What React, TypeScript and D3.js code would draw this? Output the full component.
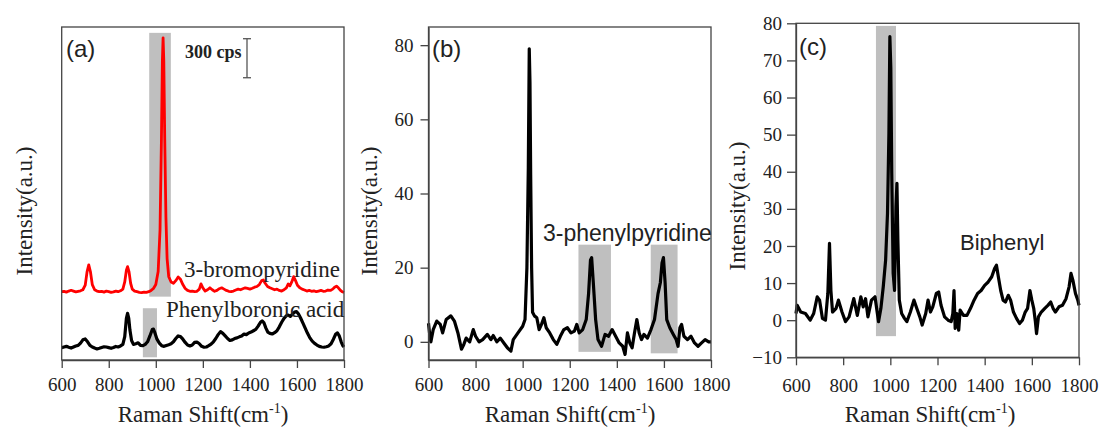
import * as d3 from 'd3';
import React, { useEffect, useRef } from 'react';

const SERIF = '"Liberation Serif", "Times New Roman", serif';
const SANS = '"Liberation Sans", Arial, sans-serif';

const xTicks = [600, 800, 1000, 1200, 1400, 1600, 1800];
const yTicksB = [0, 20, 40, 60, 80];
const yTicksC = [-10, 0, 10, 20, 30, 40, 50, 60, 70, 80];

// panel (a), counts per second (offset)
const bromoA: [number, number][] = [
  [600, 525], [610, 528], [620, 522], [630, 530], [640, 536], [650, 530], [660, 524], [670, 528], [680, 532], [690, 540],
  [700, 575], [708, 680], [715, 731], [722, 680], [730, 580], [740, 540], [750, 530], [760, 525], [770, 528], [780, 522],
  [790, 530], [800, 526], [810, 520], [820, 524], [830, 530], [840, 525], [850, 532], [860, 545], [868, 600], [875, 690],
  [880, 718], [886, 680], [893, 590], [900, 545], [910, 530], [920, 525], [930, 520], [940, 518], [950, 522], [960, 520],
  [970, 525], [980, 535], [990, 550], [1000, 580], [1010, 680], [1018, 1000], [1024, 1700], [1028, 2300], [1031, 2477],
  [1034, 2300], [1038, 1700], [1043, 1100], [1048, 780], [1055, 640], [1065, 600], [1075, 590], [1085, 610], [1095, 638],
  [1105, 620], [1115, 580], [1125, 550], [1135, 535], [1145, 528], [1155, 530], [1165, 525], [1175, 528], [1185, 545],
  [1192, 585], [1200, 555], [1210, 530], [1220, 540], [1230, 555], [1240, 540], [1250, 528], [1260, 535], [1270, 548],
  [1280, 555], [1290, 545], [1300, 535], [1310, 528], [1320, 525], [1330, 530], [1340, 538], [1350, 545], [1360, 540],
  [1370, 548], [1380, 555], [1390, 550], [1400, 545], [1410, 552], [1420, 560], [1430, 565], [1440, 580], [1450, 610],
  [1457, 615], [1465, 590], [1475, 565], [1485, 555], [1495, 548], [1505, 540], [1515, 545], [1525, 535], [1535, 530],
  [1545, 540], [1555, 555], [1563, 585], [1570, 570], [1578, 600], [1586, 641], [1594, 610], [1602, 575], [1612, 555],
  [1622, 545], [1632, 538], [1642, 530], [1652, 535], [1662, 528], [1672, 532], [1682, 525], [1692, 530], [1702, 535],
  [1712, 528], [1722, 530], [1732, 538], [1742, 535], [1752, 545], [1760, 560], [1768, 568], [1776, 555], [1785, 535],
  [1792, 525], [1800, 520],
];

const boronicA: [number, number][] = [
  [600, 95], [610, 100], [620, 105], [630, 98], [640, 92], [650, 100], [660, 108], [670, 112], [680, 130], [690, 155],
  [700, 162], [710, 140], [720, 112], [730, 100], [740, 92], [750, 85], [760, 90], [770, 96], [780, 102], [790, 100],
  [800, 95], [810, 90], [820, 96], [830, 104], [840, 100], [850, 108], [860, 120], [868, 180], [875, 320], [880, 359],
  [885, 320], [890, 230], [897, 150], [905, 120], [915, 125], [925, 132], [935, 112], [945, 110], [955, 120], [965, 140],
  [975, 185], [985, 235], [990, 238], [995, 215], [1005, 160], [1015, 130], [1025, 110], [1035, 105], [1045, 112],
  [1055, 118], [1065, 125], [1075, 140], [1085, 165], [1095, 185], [1105, 180], [1115, 160], [1125, 135], [1135, 115],
  [1145, 108], [1155, 115], [1165, 135], [1175, 138], [1185, 125], [1195, 105], [1205, 98], [1215, 100], [1225, 110],
  [1235, 122], [1245, 140], [1255, 165], [1265, 195], [1275, 218], [1285, 205], [1295, 185], [1305, 165], [1315, 150],
  [1325, 155], [1335, 165], [1345, 170], [1355, 178], [1365, 185], [1375, 200], [1385, 195], [1395, 208], [1405, 215],
  [1415, 225], [1425, 235], [1435, 260], [1445, 290], [1452, 300], [1460, 285], [1468, 245], [1476, 215], [1485, 205],
  [1495, 200], [1505, 210], [1515, 225], [1525, 255], [1535, 290], [1545, 320], [1555, 340], [1563, 345], [1572, 335],
  [1580, 350], [1590, 368], [1598, 372], [1606, 355], [1615, 325], [1625, 285], [1635, 245], [1645, 205], [1655, 170],
  [1665, 145], [1675, 128], [1685, 115], [1695, 105], [1705, 100], [1715, 98], [1725, 102], [1735, 108], [1745, 125],
  [1755, 160], [1765, 200], [1772, 208], [1780, 185], [1788, 140], [1795, 110], [1800, 100],
];

// panel (b)
const phenylpyridineB: [number, number][] = [
  [600, 5], [605, 2], [610, 0], [620, 3.3], [635, 5.6], [650, 4.7], [660, 2.4], [675, 6], [695, 7], [710, 5.6],
  [725, 2.4], [740, -2], [750, -0.7], [760, 1], [775, 0], [790, 3.3], [800, 1.5], [815, 0], [830, 0.6], [850, 2],
  [865, 0.6], [875, 1.7], [890, 0], [905, 1], [920, -0.3], [935, -1.6], [950, -2.5], [960, 0.6], [980, 2.4],
  [1000, 4.2], [1010, 6], [1018, 20], [1024, 47], [1028, 79], [1031, 70], [1034, 45], [1038, 20], [1042, 8],
  [1050, 7], [1060, 6.5], [1070, 3.3], [1080, 4.7], [1090, 6.5], [1100, 3.8], [1115, 2.4], [1130, 0.6], [1145, -0.7],
  [1160, 1.5], [1175, 3.3], [1190, 3.8], [1205, 2.4], [1220, 2.9], [1230, 4.7], [1240, 2.4], [1255, 3.3], [1270, 6],
  [1280, 13], [1288, 22], [1293, 22.7], [1300, 16], [1310, 6], [1320, 0.6], [1335, -1.2], [1350, 2], [1365, 1.5],
  [1380, 3.3], [1395, 1.5], [1410, -0.3], [1425, -1.2], [1435, -3.4], [1445, 2.4], [1455, -0.3], [1465, -1.6],
  [1475, 2.4], [1485, 6], [1495, 2.4], [1505, 0.6], [1515, 2], [1530, 1], [1545, 3.3], [1560, 6], [1575, 13],
  [1585, 16], [1592, 21.3], [1598, 22.7], [1605, 16], [1612, 6], [1625, 3.8], [1640, 2], [1652, 0.6], [1660, -1.2],
  [1668, 3.8], [1675, 4.7], [1685, 1.5], [1700, 0.6], [1715, 1.5], [1730, -0.3], [1745, -1.2], [1760, -0.3],
  [1775, 0.6], [1790, 0], [1800, 0],
];

// panel (c)
const biphenylC: [number, number][] = [
  [600, 1.8], [605, 4], [620, 2.2], [640, 1.8], [660, 0], [675, 1.8], [690, 6.3], [700, 5.4], [712, 0.5], [725, 0],
  [735, 7.2], [742, 20.7], [748, 8], [755, 2.2], [770, 3.2], [780, 5.4], [795, 2.2], [810, -0.4], [825, 0.9],
  [845, 5.8], [860, 1.3], [875, 6.3], [885, 3.6], [895, 5.8], [905, 0.9], [920, 5.4], [935, 6.3], [950, -0.4],
  [960, 3.2], [970, 9], [980, 16.2], [988, 28.8], [994, 50.4], [998, 76.4], [1002, 68], [1006, 39.6], [1012, 12.6],
  [1018, 8], [1024, 30.6], [1028, 36.9], [1032, 21.6], [1038, 5.4], [1048, 1.8], [1060, 0.5], [1070, -0.4],
  [1085, 2.2], [1100, 5.4], [1115, 2.7], [1125, 0.9], [1135, -1.3], [1150, 1.8], [1160, 5.4], [1170, 2.2],
  [1180, 3.6], [1195, 7.2], [1205, 7.6], [1215, 4], [1230, 0.9], [1245, 0], [1258, -0.4], [1265, 1.8], [1270, 8],
  [1275, -2.2], [1282, 1.8], [1290, -2.7], [1296, 2.7], [1310, 1.3], [1325, 1.3], [1340, 3.2], [1355, 5.4],
  [1370, 7.2], [1385, 8], [1400, 9.4], [1415, 10.3], [1430, 11.7], [1442, 13.9], [1450, 14.8], [1458, 11.7],
  [1468, 8], [1478, 5.4], [1488, 4.9], [1500, 6.7], [1510, 5.4], [1522, 2.2], [1535, 0.5], [1548, -0.9], [1560, 0],
  [1572, 2.2], [1582, 3.2], [1592, 8], [1600, 5.4], [1608, 3.2], [1615, -0.4], [1620, -3.6], [1628, 0.9],
  [1640, 2.2], [1655, 3.2], [1668, 4], [1680, 4.9], [1690, 3.2], [1700, 2.2], [1715, 3.6], [1730, 4], [1745, 5.8],
  [1758, 9], [1766, 12.6], [1774, 10.8], [1785, 7.2], [1795, 5.4], [1800, 4],
];

// shaded bands: [x0, x1, y0, y1] in data units
const bandsA: [number, number, number, number][] = [[972, 1064, 487, 2515], [945, 1005, 21, 398]];
const bandsB: [number, number, number, number][] = [[1237, 1375, -2.7, 26.2], [1544, 1658, -3.1, 26.2]];
const bandsC: [number, number, number, number][] = [[939, 1024, -4.3, 79.3]];

type Note = { text: string; x: number; y: number; font: string; size: number; weight?: string };

type PanelProps = {
  left: number; top: number; width: number; height: number;
  yDomain: [number, number];
  yTicks: number[] | null;
  yTickSize?: number; yTickPad?: number;
  xTickPad: number;
  series: { data: [number, number][]; color: string; width: number }[];
  bands: [number, number, number, number][];
  notes: Note[];
  xTitleX: number;
  yTitleX: number; yTitleY: number;
  scaleBar?: { x: number; y0: number; y1: number };
};

const Panel = (p: PanelProps) => {
  const ref = useRef<SVGGElement>(null);

  useEffect(() => {
    const g = d3.select(ref.current);
    g.selectAll('*').remove();
    const x = d3.scaleLinear().domain([600, 1800]).range([p.left, p.left + p.width]);
    const y = d3.scaleLinear().domain(p.yDomain).range([p.top + p.height, p.top]);

    g.selectAll('rect.band').data(p.bands).enter().append('rect')
      .attr('class', 'band')
      .attr('x', d => x(d[0])).attr('width', d => x(d[1]) - x(d[0]))
      .attr('y', d => y(d[3])).attr('height', d => y(d[2]) - y(d[3]))
      .attr('fill', '#bfbfbf');

    const line = d3.line<[number, number]>().x(d => x(d[0])).y(d => y(d[1]));
    g.selectAll('path.spec').data(p.series).enter().append('path')
      .attr('class', 'spec')
      .attr('d', d => line(d.data))
      .attr('fill', 'none')
      .attr('stroke', d => d.color)
      .attr('stroke-width', d => d.width)
      .attr('stroke-linejoin', 'round');

    g.append('rect')
      .attr('x', p.left).attr('y', p.top).attr('width', p.width).attr('height', p.height)
      .attr('fill', 'none').attr('stroke', '#444').attr('stroke-width', 1.3);

    const xAxis = g.append('g').attr('transform', `translate(0,${p.top + p.height})`)
      .call(d3.axisBottom(x).tickValues(xTicks).tickSize(8).tickSizeOuter(0).tickPadding(p.xTickPad).tickFormat(d3.format('d')));
    xAxis.select('.domain').attr('stroke', '#444').attr('stroke-width', 1.3);
    xAxis.selectAll('line').attr('stroke', '#444').attr('stroke-width', 1.3);
    xAxis.selectAll('text').attr('font-family', SERIF).attr('font-size', 19).attr('fill', '#222');

    if (p.yTicks) {
      const yAxis = g.append('g').attr('transform', `translate(${p.left},0)`)
        .call(d3.axisLeft(y).tickValues(p.yTicks).tickSize(p.yTickSize || 8).tickSizeOuter(0).tickPadding(p.yTickPad || 6));
      yAxis.select('.domain').attr('stroke', '#444').attr('stroke-width', 1.3);
      yAxis.selectAll('line').attr('stroke', '#444').attr('stroke-width', 1.3);
      yAxis.selectAll('text').attr('font-family', SERIF).attr('font-size', 19).attr('fill', '#222');
    }

    if (p.scaleBar) {
      const s = p.scaleBar;
      const sb = g.append('g').attr('stroke', '#555').attr('stroke-width', 1.3);
      sb.append('line').attr('x1', s.x).attr('x2', s.x).attr('y1', y(s.y0)).attr('y2', y(s.y1));
      sb.append('line').attr('x1', s.x - 4).attr('x2', s.x + 4).attr('y1', y(s.y0)).attr('y2', y(s.y0));
      sb.append('line').attr('x1', s.x - 4).attr('x2', s.x + 4).attr('y1', y(s.y1)).attr('y2', y(s.y1));
    }

    g.selectAll('text.note').data(p.notes).enter().append('text')
      .attr('class', 'note')
      .attr('x', d => d.x).attr('y', d => d.y)
      .attr('font-family', d => d.font).attr('font-size', d => d.size)
      .attr('font-weight', d => d.weight || 'normal')
      .attr('fill', '#222')
      .text(d => d.text);

    const xt = g.append('text')
      .attr('x', p.xTitleX).attr('y', 422)
      .attr('text-anchor', 'middle')
      .attr('font-family', SERIF).attr('font-size', 23).attr('fill', '#222');
    xt.append('tspan').text('Raman Shift(cm');
    xt.append('tspan').attr('font-size', 14).attr('dy', -9).text('-1');
    xt.append('tspan').attr('dy', 9).text(')');

    g.append('text')
      .attr('transform', `translate(${p.yTitleX},${p.yTitleY}) rotate(-90)`)
      .attr('text-anchor', 'middle')
      .attr('font-family', SERIF).attr('font-size', 23).attr('fill', '#222')
      .text('Intensity(a.u.)');
  }, [p]);

  return <g ref={ref} />;
};

export default function App() {
  return (
    <svg width={1101} height={430} style={{ position: 'absolute', left: 0, top: 0, background: '#fff' }}>
      <Panel
        left={61.7} top={27} width={282.3} height={333}
        yDomain={[0, 2560]} yTicks={null} xTickPad={10}
        series={[{ data: bromoA, color: '#ff0000', width: 2.8 }, { data: boronicA, color: '#000', width: 3.2 }]}
        bands={bandsA}
        notes={[
          { text: '(a)', x: 66, y: 57, font: SANS, size: 24 },
          { text: '300 cps', x: 185, y: 58, font: SERIF, size: 18, weight: 'bold' },
          { text: '3-bromopyridine', x: 184, y: 277, font: SERIF, size: 23 },
          { text: 'Phenylboronic acid', x: 166, y: 317, font: SERIF, size: 23 },
        ]}
        scaleBar={{ x: 247, y0: 2470, y1: 2170 }}
        xTitleX={203} yTitleX={32} yTitleY={211}
      />
      <Panel
        left={428.5} top={27} width={282.5} height={333}
        yDomain={[-4.9, 84.9]} yTicks={yTicksB} yTickSize={8} yTickPad={7} xTickPad={10}
        series={[{ data: phenylpyridineB, color: '#000', width: 3.2 }]}
        bands={bandsB}
        notes={[
          { text: '(b)', x: 432, y: 57, font: SANS, size: 24 },
          { text: '3-phenylpyridine', x: 543, y: 241, font: SANS, size: 23 },
        ]}
        xTitleX={570} yTitleX={377} yTitleY={211}
      />
      <Panel
        left={796} top={23.3} width={283} height={334}
        yDomain={[-10, 80]} yTicks={yTicksC} yTickSize={9} yTickPad={5} xTickPad={13}
        series={[{ data: biphenylC, color: '#000', width: 3.2 }]}
        bands={bandsC}
        notes={[
          { text: '(c)', x: 799, y: 55, font: SANS, size: 24 },
          { text: 'Biphenyl', x: 960, y: 250, font: SANS, size: 22 },
        ]}
        xTitleX={930} yTitleX={745} yTitleY={206}
      />
    </svg>
  );
}
